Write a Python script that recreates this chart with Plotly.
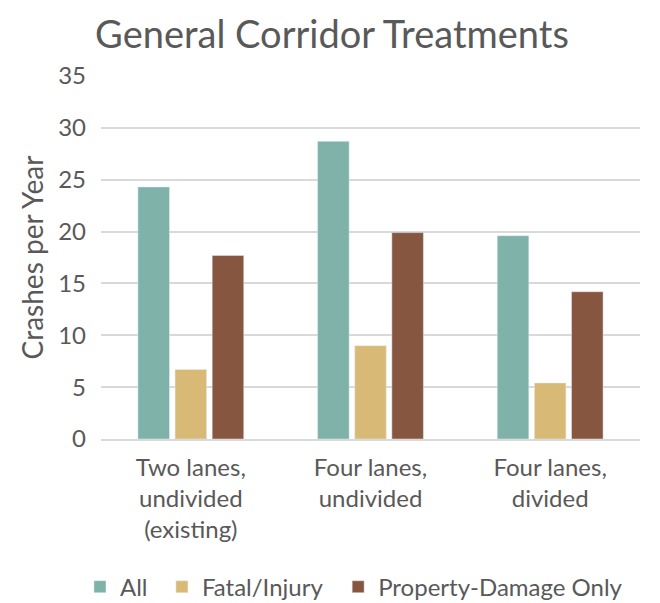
import plotly.graph_objects as go

categories = ["Two lanes,<br>undivided<br>(existing)", "Four lanes,<br>undivided", "Four lanes,<br>divided"]
all_crashes = [24.3, 28.7, 19.6]
fatal_injury = [6.7, 9.0, 5.4]
property_damage = [17.7, 19.9, 14.2]

TEXT = "#595959"
FONT = "Lato, Open Sans, sans-serif"

fig = go.Figure()
fig.add_trace(go.Bar(name="All", x=categories, y=all_crashes, marker_color="#7FB2A9", legend="legend"))
fig.add_trace(go.Bar(name="Fatal/Injury", x=categories, y=fatal_injury, marker_color="#D8BA76", legend="legend2"))
fig.add_trace(go.Bar(name="Property-Damage Only", x=categories, y=property_damage, marker_color="#875640",
                     legend="legend3"))


def _legend(x):
    return dict(orientation="h", x=x, xanchor="left", y=-0.408, yanchor="middle",
                font=dict(size=24, color=TEXT), itemwidth=30, bgcolor="rgba(0,0,0,0)")


# page body has an 8px default margin, so margins are trimmed to line up
fig.update_layout(
    width=660, height=603,
    paper_bgcolor="white", plot_bgcolor="white",
    font=dict(family=FONT, color=TEXT, size=24),
    title=dict(text="General Corridor Treatments", x=0.132, xanchor="left", y=0.955, yanchor="middle",
               font=dict(size=38, color=TEXT)),
    barmode="group", bargap=0.38, bargroupgap=0.15,
    margin=dict(l=93, r=28, t=68, b=172, autoexpand=False),
    legend=_legend(-0.039),
    legend2=_legend(0.113),
    legend3=_legend(0.440),
    showlegend=True,
)
fig.update_yaxes(
    range=[0, 35], dtick=5, showgrid=True, gridcolor="#D9D9D9", gridwidth=1.5,
    zeroline=False, showline=False, ticks="", tickfont=dict(size=24, color=TEXT),
    ticklabelstandoff=14, automargin=False,
    title=dict(text="Crashes per Year", font=dict(size=28, color=TEXT), standoff=6),
)
fig.update_xaxes(
    showline=True, linecolor="#D9D9D9", linewidth=1.5, ticks="",
    tickfont=dict(size=24, color=TEXT), ticklabelstandoff=6, automargin=False,
)

fig.write_html("out.html")
